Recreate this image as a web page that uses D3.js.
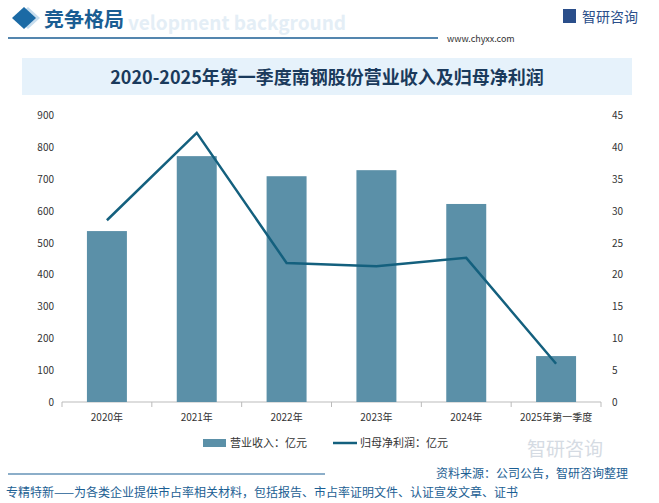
<!DOCTYPE html><html><head><meta charset="utf-8">
<script src="https://cdn.jsdelivr.net/npm/d3@7"></script>
<style>body{margin:0;background:#fff}text{font-family:"Noto Sans CJK SC","Noto Sans",sans-serif}</style></head><body>
<svg id="c" width="659" height="503"></svg>
<script>
const categories=["2020年","2021年","2022年","2023年","2024年","2025年第一季度"];
const revenue=[536,771,708,727,621,144];
const profit=[28.5,42.2,21.8,21.3,22.6,6.0];
const leftTicks=[0,100,200,300,400,500,600,700,800,900];
const rightTicks=[0,5,10,15,20,25,30,35,40,45];
const svg=d3.select("#c");
svg.append("rect").attr("x",0).attr("y",0).attr("width",659).attr("height",503).attr("fill","#fff");
svg.append("text").attr("x",128).attr("y",30).attr("font-size",19).attr("font-weight","bold").attr("fill","#e4eef6").text("velopment background");
svg.append("path").attr("d","M16,18 L28,7 L40,18 L28,29Z").attr("fill","#c7ddee");
svg.append("path").attr("d","M12,18 L24,7 L36,18 L24,29Z").attr("fill","#1b6aa5");
svg.append("text").attr("x",44).attr("y",27).attr("font-size",20).attr("font-weight","bold").attr("fill","#1b5e93").text("竞争格局");
svg.append("line").attr("x1",8).attr("x2",438).attr("y1",38).attr("y2",38).attr("stroke","#1b5e93").attr("stroke-width",1.5);
svg.append("rect").attr("x",563).attr("y",9).attr("width",13).attr("height",14).attr("fill","#2a4e8a");
svg.append("text").attr("x",582).attr("y",22).attr("font-size",14).attr("fill","#2a4e8a").text("智研咨询");
svg.append("text").attr("x",447).attr("y",42).attr("font-size",9).attr("fill","#333").attr("font-family","DejaVu Serif").text("www.chyxx.com");
svg.append("rect").attr("x",22).attr("y",58).attr("width",610).attr("height",37).attr("fill","#e6f2fb");
svg.append("text").attr("x",327).attr("y",84).attr("text-anchor","middle").attr("font-size",18).attr("font-weight","bold").attr("fill","#1a3a5c").text("2020-2025年第一季度南钢股份营业收入及归母净利润");
const x0=62,x1=601;
const x=d3.scaleBand().domain(categories).range([x0,x1]).paddingInner(0.555).paddingOuter(0.2775);
const yL=d3.scaleLinear().domain([0,900]).range([402,115]);
const yR=d3.scaleLinear().domain([0,45]).range([402,115]);
const g=svg.append("g");
g.append("line").attr("x1",x0).attr("x2",x1).attr("y1",402).attr("y2",402).attr("stroke","#bbb");
d3.range(7).forEach(i=>{const xx=x0+((x1-x0)/6)*i;g.append("line").attr("x1",xx).attr("x2",xx).attr("y1",402).attr("y2",407).attr("stroke","#bbb");});
g.selectAll("rect.b").data(revenue).join("rect").attr("x",(d,i)=>x(categories[i])).attr("width",x.bandwidth()).attr("y",d=>yL(d)).attr("height",d=>402-yL(d)).attr("fill","#5b90a8");
g.append("path").datum(profit).attr("d",d3.line().x((d,i)=>x(categories[i])+x.bandwidth()/2).y(d=>yR(d))).attr("fill","none").attr("stroke","#14607e").attr("stroke-width",2.5);
leftTicks.forEach(t=>g.append("text").attr("x",54).attr("y",yL(t)+4).attr("text-anchor","end").attr("font-size",10).attr("fill","#333").text(t));
rightTicks.forEach(t=>g.append("text").attr("x",612).attr("y",yR(t)+4).attr("font-size",10).attr("fill","#333").text(t));
categories.forEach(c=>g.append("text").attr("x",x(c)+x.bandwidth()/2).attr("y",421).attr("text-anchor","middle").attr("font-size",10).attr("fill","#333").text(c));
svg.append("rect").attr("x",203).attr("y",439).attr("width",23).attr("height",8).attr("fill","#5b90a8");
svg.append("text").attr("x",230).attr("y",447).attr("font-size",11).attr("fill","#333").text("营业收入：亿元");
svg.append("line").attr("x1",333).attr("x2",357).attr("y1",443).attr("y2",443).attr("stroke","#14607e").attr("stroke-width",2.5);
svg.append("text").attr("x",360).attr("y",447).attr("font-size",11).attr("fill","#333").text("归母净利润：亿元");
svg.append("text").attr("x",527).attr("y",456).attr("font-size",19).attr("fill","#d5dbe3").text("智研咨询");
svg.append("line").attr("x1",8).attr("x2",325).attr("y1",474).attr("y2",474).attr("stroke","#1b5e93").attr("stroke-width",1.2);
svg.append("text").attr("x",436).attr("y",478).attr("font-size",12).attr("fill","#1b5e93").text("资料来源：公司公告，智研咨询整理");
svg.append("text").attr("x",6).attr("y",497).attr("font-size",12).attr("fill","#1b5e93").text("专精特新——为各类企业提供市占率相关材料，包括报告、市占率证明文件、认证宣发文章、证书");
</script></body></html>
